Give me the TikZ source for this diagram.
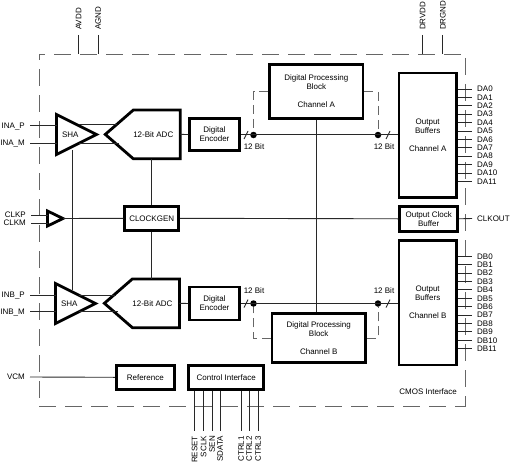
\documentclass[tikz,border=0pt]{standalone}
\usepackage{fontspec}
\setmainfont{Liberation Sans}
\usetikzlibrary{arrows.meta,positioning,calc,shapes.geometric,shapes.symbols}
\definecolor{edgecol}{RGB}{40,40,40}
\begin{document}
\begin{tikzpicture}[
  x=1pt, y=-1pt,
  every node/.style={font=\fontsize{8}{9}\selectfont, text=black},
  block/.style={draw=black, line width=2.8pt, fill=white, align=center, inner sep=0pt},
  sha/.style={draw=black, line width=2.8pt, fill=white, isosceles triangle, isosceles triangle stretches,
              minimum width=40pt, minimum height=40pt, inner sep=0pt, outer sep=0pt, shape border rotate=0},
  adc/.style={draw=black, line width=2.8pt, fill=white, signal, signal to=west, signal from=nowhere,
              signal pointer angle=82, minimum height=48.7pt, minimum width=73pt, inner sep=0pt, outer sep=0pt},
  wire/.style={line width=0.9pt, draw=edgecol},
  dashwire/.style={line width=0.9pt, draw=black!60, dash pattern=on 9pt off 5pt},
  border/.style={line width=0.9pt, draw=black!60, dash pattern=on 17pt off 9pt},
  pin/.style={inner ysep=0pt, inner xsep=5pt, text depth=0pt},
  dotnode/.style={circle, fill=black, inner sep=0pt, minimum size=6.5pt},
]
  \useasboundingbox (0,0) rectangle (510,468);

  \coordinate (nw) at (39,54);
  \coordinate (ne) at (465.5,54);
  \coordinate (se) at (465.5,406.5);
  \coordinate (sw) at (39,406.5);
  \draw[border] (sw) -- (se);
  \draw[border, dash phase=11pt] (nw) -- (ne);
  \draw[border, dash phase=11pt] (nw) -- (sw);
  \draw[border, dash phase=22pt] (ne) -- (se);

  % channel A
  \node[sha, anchor=lower side] (shaa) at (56.5,134.5) {SHA};
  \node[adc, anchor=east] (adca) at (180.3,134.4) {12-Bit ADC\hspace*{7pt}};
  \node[block, minimum width=49.7pt, minimum height=32.3pt] (enca) at (214.5,134.5) {Digital\\Encoder};
  \node[block, minimum width=93.3pt, minimum height=54pt] (dpa) at (316.3,91.6) {Digital Processing\\Block\\[9pt]Channel A};
  \node[block, minimum width=57.3pt, minimum height=124.6pt] (oba) at (427.7,135.3) {Output\\Buffers\\[9pt]Channel A};
  \node[dotnode] (dota1) at (253.5,135) {};
  \node[dotnode] (dota2) at (378,135) {};
  \node (bita1) at (254,147) {12 Bit};
  \node (bita2) at (384,147) {12 Bit};

  % channel B
  \node[sha, anchor=lower side] (shab) at (55.5,303.5) {SHA};
  \node[adc, anchor=east, minimum width=72pt] (adcb) at (179.4,303.3) {12-Bit ADC\hspace*{7pt}};
  \node[block, minimum width=49.7pt, minimum height=33pt] (encb) at (214.5,303.5) {Digital\\Encoder};
  \node[block, minimum width=93.3pt, minimum height=49pt] (dpb) at (318.7,338.2) {Digital Processing\\Block\\[9pt]Channel B};
  \node[block, minimum width=57.3pt, minimum height=124.6pt] (obb) at (427.7,302.7) {Output\\Buffers\\[9pt]Channel B};
  \node[dotnode] (dotb1) at (253.5,303.5) {};
  \node[dotnode] (dotb2) at (378,303.5) {};
  \node (bitb1) at (254,291) {12 Bit};
  \node (bitb2) at (384,291) {12 Bit};

  % clock path
  \node[block, minimum width=54pt, minimum height=24pt] (clkgen) at (151.7,218.3) {CLOCKGEN};
  \node[block, minimum width=58pt, minimum height=25pt] (clkbuf) at (428.7,218.8) {Output Clock\\Buffer};
  \node[sha, minimum width=15pt, minimum height=15.5pt, anchor=lower side] (clkamp) at (47.5,218.5) {};
  \node[pin, anchor=east] (clkp) at (31,215) {CLKP};
  \node[pin, anchor=east] (clkm) at (31,223) {CLKM};
  \node[pin, anchor=west] (clkout) at (472,218.5) {CLKOUT};

  % bottom row
  \node[block, minimum width=58pt, minimum height=24pt] (refblk) at (145.3,377.3) {Reference};
  \node[block, minimum width=75pt, minimum height=24pt] (ctrl) at (226.2,377.3) {Control Interface};
  \node[pin, anchor=east] (vcm) at (30,377) {VCM};
  \node[anchor=east, inner sep=0pt] (cmos) at (457,392) {CMOS Interface};

  % analog inputs
  \node[pin, anchor=east] (inap) at (30,125.5) {INA\_P};
  \node[pin, anchor=east] (inam) at (30,143) {INA\_M};
  \node[pin, anchor=east] (inbp) at (30,295) {INB\_P};
  \node[pin, anchor=east] (inbm) at (30,311.5) {INB\_M};
  \draw[wire] (inap.east) -- (inap.east -| shaa.lower side);
  \draw[wire] (inam.east) -- (inam.east -| shaa.lower side);
  \draw[wire] (inbp.east) -- (inbp.east -| shab.lower side);
  \draw[wire] (inbm.east) -- (inbm.east -| shab.lower side);

  \coordinate (shaapt) at (79,124.5);
  \coordinate (shaamt) at (79,143);
  \coordinate (shabpt) at (79,295);
  \coordinate (shabmt) at (79,311.5);
  \draw[wire] (shaapt) -- (116.5,124.5);
  \draw[wire] (shaamt) -- (118.5,143);
  \draw[wire] (shabpt) -- (116,295);
  \draw[wire] (shabmt) -- (118,311.5);

  \draw[wire] (adca.east) -- (enca.west);
  \draw[wire] (adcb.east) -- (encb.west);
  \draw[wire] (enca.east) -- (oba.west |- enca.east);
  \draw[wire] (encb.east) -- (obb.west |- encb.east);
  \draw[wire] (dpa.south) -- (dpa.south |- dpb.north);
  \draw[dashwire] (dpa.west) -| (dota1);
  \draw[dashwire] (dpa.east) -| (dota2);
  \draw[dashwire] (dpb.west) -| (dotb1);
  \draw[dashwire] (dpb.east) -| (dotb2);

  % bus ticks
  \foreach \d in {dota1,dotb1} {
    \draw[wire] ($(\d)+(-9.5,4)$) -- ++(4,-8);
  }
  \foreach \d in {dota2,dotb2} {
    \draw[wire] ($(\d)+(8,4)$) -- ++(4,-8);
  }

  % clock wiring
  \draw[wire] (clkamp.apex) -- (clkgen.west);
  \draw[wire] (clkgen.east) -- (clkbuf.west);
  \draw[wire] (clkbuf.east) -- (clkout.west);
  \draw[wire] (clkp.east) -- (clkp.east -| clkamp.lower side);
  \draw[wire] (clkm.east) -- (clkm.east -| clkamp.lower side);
  \draw[wire] (clkgen.north) -- (clkgen.north |- adca.south);
  \draw[wire] (clkgen.south) -- (clkgen.south |- adcb.north);
  \coordinate (shaatap) at (72,150);
  \coordinate (shabtap) at (72,290);
  \draw[wire] (shaatap) -- (shabtap);

  % outputs
  \foreach \i in {0,...,11} {
    \node[pin, anchor=west] (da\i) at (472,{89+8.4*\i}) {DA\i};
    \draw[wire] (oba.east |- da\i.west) -- (da\i.west);
    \node[pin, anchor=west] (db\i) at (472,{256.3+8.4*\i}) {DB\i};
    \draw[wire] (obb.east |- db\i.west) -- (db\i.west);
  }

  \draw[wire] (vcm.east) -- (refblk.west);

  % supplies
  \foreach \x/\t in {78.5/AVDD,98/AGND,422.7/DRVDD,442.7/DRGND} {
    \node[pin, rotate=90, anchor=west] (\t) at (\x,35) {\t};
    \draw[wire] (\t.west) -- (\t.west |- nw);
  }

  % control pins
  \foreach \x/\t in {194.5/RESET,203.5/SCLK,212/SEN,220/SDATA,241/CTRL1,249/CTRL2,258/CTRL3} {
    \node[pin, rotate=90, anchor=east] (\t) at (\x,431) {\t};
    \draw[wire] (\t.east |- ctrl.south) -- (\t.east);
  }
\end{tikzpicture}
\end{document}
